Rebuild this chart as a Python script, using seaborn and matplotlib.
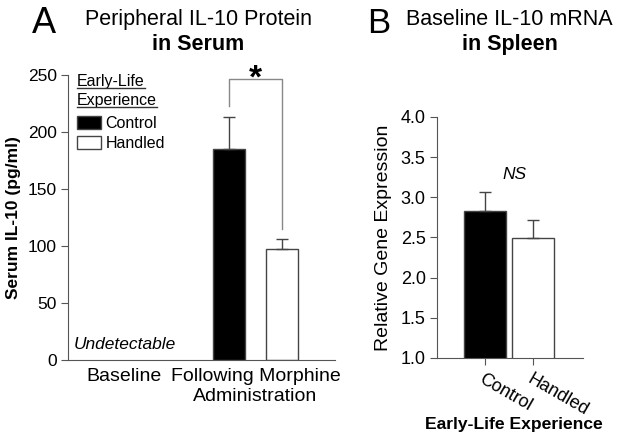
import numpy as np
import pandas as pd
import matplotlib
matplotlib.use("Agg")
import matplotlib.pyplot as plt
import seaborn as sns
from matplotlib.patches import Patch
from matplotlib.lines import Line2D

# =========================
# DATA
# =========================
conditions = ["Baseline", "Following Morphine\nAdministration"]
groups = ["Control", "Handled"]
serum_mean = [np.nan, np.nan, 185.0, 97.0]      # baseline undetectable
serum_sem = [np.nan, np.nan, 28.0, 9.0]
serum_cond = [conditions[0], conditions[0], conditions[1], conditions[1]]
serum_group = ["Control", "Handled", "Control", "Handled"]

spleen_mean = [2.83, 2.49]
spleen_sem = [0.24, 0.23]

colors = {"Control": "black", "Handled": "white"}
EDGE = "#444444"
SPINE = "#555555"

plt.rcParams["font.family"] = ["Liberation Sans", "DejaVu Sans"]

fig = plt.figure(figsize=(6.24, 4.43), dpi=100)
ax_a = fig.add_axes([0.109, 0.187, 0.428, 0.644])
ax_b = fig.add_axes([0.700, 0.192, 0.234, 0.544])

# =========================
# PANEL A
# =========================
df_a = pd.DataFrame({"condition": serum_cond, "group": serum_group, "value": serum_mean})
sns.barplot(data=df_a, x="condition", y="value", hue="group", order=conditions,
            hue_order=groups, palette=colors, errorbar=None, width=0.8, gap=0.39,
            edgecolor=EDGE, linewidth=1.0, legend=False, ax=ax_a)

bars_a = sorted([p for p in ax_a.patches if np.isfinite(p.get_height()) and p.get_height() > 0],
                key=lambda p: p.get_x())
xs_a = [p.get_x() + p.get_width() / 2 for p in bars_a]
ys_a = [p.get_height() for p in bars_a]
errs_a = [e for e in serum_sem if np.isfinite(e)]
ax_a.errorbar(xs_a, ys_a, yerr=[np.zeros(len(errs_a)), errs_a], fmt="none",
              ecolor=EDGE, elinewidth=1.0, capsize=4, capthick=1.0, zorder=1)

# significance bracket
ax_a.plot([xs_a[0], xs_a[0], xs_a[1], xs_a[1]], [223, 246.5, 246.5, 115],
          color="#888888", lw=1.0, clip_on=False)
ax_a.text((xs_a[0] + xs_a[1]) / 2, 239, "*", ha="center", va="baseline",
          fontsize=24, fontweight="bold", clip_on=False)

ax_a.set_ylim(0, 250)
ax_a.set_xlim(-0.426, 1.605)
ax_a.set_yticks(np.arange(0, 251, 50))
ax_a.tick_params(axis="y", direction="out", length=5, color=SPINE, labelsize=12.5, pad=3)
ax_a.tick_params(axis="x", length=0, labelsize=14, pad=6)
ax_a.set_xlabel("")
ax_a.set_ylabel("Serum IL-10 (pg/ml)", fontsize=12.5, fontweight="bold", labelpad=5)
for s in ["top", "right"]:
    ax_a.spines[s].set_visible(False)
for s in ["left", "bottom"]:
    ax_a.spines[s].set_color(SPINE)

ax_a.text(0.02, 0.055, "Undetectable", transform=ax_a.transAxes, fontsize=12.5,
          style="italic", ha="left", va="center")

# legend
handles = [Patch(facecolor=colors[g], edgecolor=EDGE, linewidth=1.0, label=g) for g in groups]
ax_a.legend(handles=handles, loc="upper left", bbox_to_anchor=(0.035, 0.855),
            frameon=False, fontsize=11.5, handlelength=1.45, handleheight=0.9,
            handletextpad=0.3, labelspacing=0.3, borderpad=0, borderaxespad=0)
legend_titles = [ax_a.text(0.034, y, t, transform=ax_a.transAxes, fontsize=11.5,
                           ha="left", va="center")
                 for t, y in [("Early-Life", 0.975), ("Experience", 0.909)]]

fig.text(0.051, 0.9255, "A", fontsize=26, ha="left", va="baseline")
fig.text(0.318, 0.9436, "Peripheral IL-10 Protein", fontsize=15.5, ha="center", va="baseline")
fig.text(0.318, 0.887, "in Serum", fontsize=15.5, fontweight="bold", ha="center", va="baseline")

# =========================
# PANEL B
# =========================
df_b = pd.DataFrame({"group": groups, "value": spleen_mean})
sns.barplot(data=df_b, x="group", y="value", hue="group", order=groups,
            hue_order=groups, palette=colors, errorbar=None, width=0.875,
            edgecolor=EDGE, linewidth=1.0, legend=False, ax=ax_b)

bars_b = sorted(ax_b.patches, key=lambda p: p.get_x())
xs_b = [p.get_x() + p.get_width() / 2 for p in bars_b]
ax_b.set_ylim(1.0, 4.0)
ys_b = [p.get_y() + p.get_height() for p in bars_b]
ax_b.errorbar(xs_b, ys_b, yerr=[np.zeros(len(spleen_sem)), spleen_sem], fmt="none",
              ecolor=EDGE, elinewidth=1.0, capsize=4, capthick=1.0, zorder=1)
ax_b.text(np.mean(xs_b) + 0.12, 3.28, "NS", fontsize=12.5, style="italic", ha="center", va="center")

ax_b.set_xlim(-1.0, 2.04)
ax_b.set_yticks(np.arange(1.0, 4.01, 0.5))
ax_b.set_yticklabels([f"{v:.1f}" for v in np.arange(1.0, 4.01, 0.5)])
ax_b.tick_params(axis="y", direction="out", length=5, color=SPINE, labelsize=13, pad=3)
ax_b.tick_params(axis="x", direction="out", length=5, color=SPINE, labelsize=13, pad=4)
plt.setp(ax_b.get_xticklabels(), rotation=-30, ha="left", rotation_mode="anchor")
ax_b.set_xlabel("Early-Life Experience", fontsize=12.6, fontweight="bold")
ax_b.xaxis.set_label_coords(0.53, -0.245)
ax_b.set_ylabel("Relative Gene Expression", fontsize=14, labelpad=6)
for s in ["top", "right"]:
    ax_b.spines[s].set_visible(False)
for s in ["left", "bottom"]:
    ax_b.spines[s].set_color(SPINE)

fig.text(0.588, 0.9255, "B", fontsize=25, ha="left", va="baseline")
fig.text(0.817, 0.9436, "Baseline IL-10 mRNA", fontsize=15.5, ha="center", va="baseline")
fig.text(0.817, 0.887, "in Spleen", fontsize=15.5, fontweight="bold", ha="center", va="baseline")

# underline the legend title lines
fig.canvas.draw()
renderer = fig.canvas.get_renderer()
inv = fig.transFigure.inverted()
for t in legend_titles:
    bb = t.get_window_extent(renderer)
    (x0, y0), (x1, _) = inv.transform([(bb.x0, bb.y0 + 1), (bb.x1, bb.y0 + 1)])
    fig.add_artist(Line2D([x0, x1], [y0, y0], transform=fig.transFigure,
                          color="#333333", lw=1.0))

fig.savefig("out.png", dpi=100)
